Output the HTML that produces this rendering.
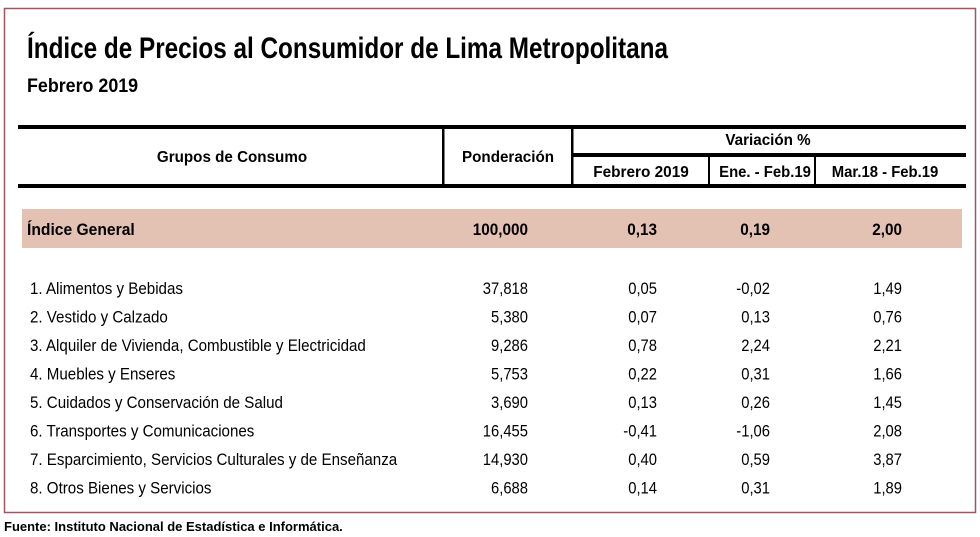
<!DOCTYPE html>
<html><head><meta charset="utf-8">
<style>
html,body{margin:0;padding:0;background:#fff;}
svg{display:block;font-family:"Liberation Sans",Arial,sans-serif;}
</style></head>
<body>
<svg id="chart" width="980" height="537" viewBox="0 0 980 537">
  <rect x="4.5" y="8.5" width="971" height="504" fill="#fff" stroke="#a3555f" stroke-width="1.5"/>
  <rect x="18" y="125" width="948" height="4" fill="#000"/>
  <rect x="572" y="153" width="394" height="4" fill="#000"/>
  <rect x="18" y="184" width="948" height="4" fill="#000"/>
  <rect x="442" y="127" width="2.5" height="59" fill="#000"/>
  <rect x="571" y="127" width="2.5" height="59" fill="#000"/>
  <rect x="708" y="155" width="2" height="31" fill="#000"/>
  <rect x="814" y="155" width="2" height="31" fill="#000"/>
  <rect x="22" y="209" width="940" height="39" fill="#e4c2b3"/>
  <g id="texts"></g>
</svg>
<script>
const categories = ["1. Alimentos y Bebidas","2. Vestido y Calzado","3. Alquiler de Vivienda, Combustible y Electricidad","4. Muebles y Enseres","5. Cuidados y Conservación de Salud","6. Transportes y Comunicaciones","7. Esparcimiento, Servicios Culturales y de Enseñanza","8. Otros Bienes y Servicios"];
const ponderacion = ["37,818","5,380","9,286","5,753","3,690","16,455","14,930","6,688"];
const febrero = ["0,05","0,07","0,78","0,22","0,13","-0,41","0,40","0,14"];
const eneFeb = ["-0,02","0,13","2,24","0,31","0,26","-1,06","0,59","0,31"];
const marFeb = ["1,49","0,76","2,21","1,66","1,45","2,08","3,87","1,89"];
const generalRow = ["Índice General","100,000","0,13","0,19","2,00"];

const NS="http://www.w3.org/2000/svg";
const g=document.getElementById('texts');
function txt(s,x,y,size,bold,anchor,sx,name){
  const t=document.createElementNS(NS,'text');
  t.setAttribute('transform','translate('+x+','+y+') scale('+sx+',1)');
  t.setAttribute('font-size',size);
  if(bold)t.setAttribute('font-weight','bold');
  t.setAttribute('text-anchor',anchor);
  t.setAttribute('fill','#000');
  t.textContent=s;
  
  
  g.appendChild(t);
  return t;
}
txt("Índice de Precios al Consumidor de Lima Metropolitana",27,58,30,true,'start',0.81,'chart-title');
txt("Febrero 2019",27,92,19,true,'start',0.94,'chart-subtitle');
txt("Grupos de Consumo",232,162,16,true,'middle',0.95,'header-grupos');
txt("Ponderación",508,162,16,true,'middle',0.95,'header-ponderacion');
txt("Variación %",768,145,16,true,'middle',0.95,'header-variacion');
txt("Febrero 2019",641,177,16,true,'middle',0.96,'header-febrero');
txt("Ene. - Feb.19",765,177,16,true,'middle',0.93,'header-ene-feb');
txt("Mar.18 - Feb.19",885,177,16,true,'middle',0.93,'header-mar-feb');
const cx=[528,657,770,902];
txt(generalRow[0],27,235,17,true,'start',0.92,'general-label');
for(let j=1;j<5;j++) txt(generalRow[j],cx[j-1],235,17,true,'end',0.9,'general-value');
const rowY0=294, rowStep=28.5;
categories.forEach((c,i)=>{
  const y=rowY0+i*rowStep;
  txt(c,30,y,17,false,'start',0.89,'row-label');
  txt(ponderacion[i],cx[0],y,17,false,'end',0.87,'ponderacion-value');
  txt(febrero[i],cx[1],y,17,false,'end',0.87,'febrero-value');
  txt(eneFeb[i],cx[2],y,17,false,'end',0.87,'ene-feb-value');
  txt(marFeb[i],cx[3],y,17,false,'end',0.87,'mar-feb-value');
});
txt("Fuente: Instituto Nacional de Estadística e Informática.",4,531,13,true,'start',1.0,'source-note');
</script>
</body></html>
